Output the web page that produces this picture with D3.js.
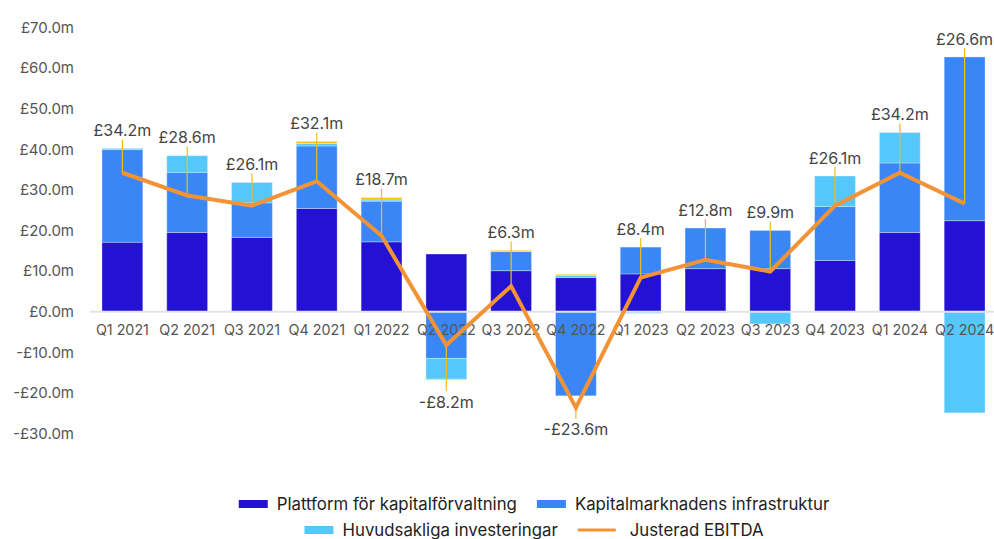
<!DOCTYPE html>
<html>
<head>
<meta charset="utf-8">
<script src="https://cdn.jsdelivr.net/npm/d3@7"></script>
<style>
  body { margin: 0; background: #fff; }
  svg { display: block; font-family: Inter, "Liberation Sans", sans-serif; }
</style>
</head>
<body>
<div id="chart"></div>
<script>
// Quarters on the x axis
const quarters = ["Q1 2021", "Q2 2021", "Q3 2021", "Q4 2021", "Q1 2022", "Q2 2022", "Q3 2022",
                  "Q4 2022", "Q1 2023", "Q2 2023", "Q3 2023", "Q4 2023", "Q1 2024", "Q2 2024"];

// Segment values, £m
const plattform   = [17.1, 19.5, 18.3, 25.4, 17.2, 14.2, 10.1, 8.4, 9.3, 10.6, 10.6, 12.6, 19.5, 22.4];
const kapitalmarknad = [22.8, 14.8, 8.5, 15.4, 10.0, -11.5, 4.7, -20.7, 6.6, 10.0, 9.4, 13.3, 17.1, 40.3];
const investeringar = [0.3, 4.1, 5.0, 0.6, 0.3, -5.1, 0.0, 0.5, -0.4, -0.2, -3.0, 7.5, 7.5, -24.9];
const ovrigt      = [0.0, 0.0, 0.0, 0.5, 0.6, -0.2, 0.3, 0.3, 0.0, 0.0, 0.0, 0.0, 0.0, 0.0];

// Adjusted EBITDA, £m
const ebitda = [34.2, 28.6, 26.1, 32.1, 18.7, -8.2, 6.3, -23.6, 8.4, 12.8, 9.9, 26.1, 34.2, 26.6];

const yTicks = [-30, -20, -10, 0, 10, 20, 30, 40, 50, 60, 70];

const seriesNames = ["Plattform för kapitalförvaltning", "Kapitalmarknadens infrastruktur",
                     "Huvudsakliga investeringar", "Övrigt"];
const lineName = "Justerad EBITDA";

const colors = ["#2312d3", "#3a86f6", "#55c7fb", "#f5c20a"];
const lineColor = "#f39335";
const leaderColor = "#f5bd14";

const W = 994, H = 539;
const svg = d3.select("#chart").append("svg")
    .attr("width", W)
    .attr("height", H);

const x = d3.scaleBand()
    .domain(quarters)
    .range([90, 997])
    .paddingInner(0.37)
    .paddingOuter(0.185);

const y = d3.scaleLinear()
    .domain([-30, 70])
    .range([433.6, 27.3]);

// Build rows for the stack
const rows = quarters.map((q, i) => ({
    q: q,
    s0: plattform[i], s1: kapitalmarknad[i], s2: investeringar[i], s3: ovrigt[i]
}));
const stack = d3.stack()
    .keys(["s0", "s1", "s2", "s3"])
    .offset(d3.stackOffsetDiverging);
const stacked = stack(rows);

// Y axis labels
const yAxis = svg.append("g")
    .attr("transform", "translate(74,0)")
    .call(d3.axisLeft(y).tickValues(yTicks).tickSize(0).tickPadding(0)
        .tickFormat(d => (d < 0 ? "-" : "") + "£" + Math.abs(d).toFixed(1) + "m"));
yAxis.select(".domain").remove();
yAxis.selectAll("text")
    .attr("fill", "#555")
    .style("font-size", "15px")
    .style("font-family", "Inter, 'Liberation Sans', sans-serif");

// Bars
svg.append("g")
    .selectAll("g")
    .data(stacked)
    .join("g")
    .attr("fill", (d, i) => colors[i])
    .selectAll("rect")
    .data(d => d)
    .join("rect")
    .attr("x", d => x(d.data.q))
    .attr("width", x.bandwidth())
    .attr("y", d => y(Math.max(d[0], d[1])))
    .attr("height", d => Math.abs(y(d[0]) - y(d[1])))
    .attr("stroke", "rgba(255,255,255,0.3)")
    .attr("stroke-width", 1);

// Zero line
svg.append("line")
    .attr("x1", x.range()[0])
    .attr("x2", x.range()[1])
    .attr("y1", y(0))
    .attr("y2", y(0))
    .attr("stroke", "#e3e3e3")
    .attr("stroke-width", 2);

// X axis labels
const xAxis = svg.append("g")
    .attr("transform", `translate(0,${y(0)})`)
    .call(d3.axisBottom(x).tickSize(0).tickPadding(13));
xAxis.select(".domain").remove();
xAxis.selectAll("text")
    .attr("fill", "#555")
    .style("font-size", "14.3px")
    .style("font-family", "Inter, 'Liberation Sans', sans-serif");

// EBITDA line
const cx = q => x(q) + x.bandwidth() / 2;
const line = d3.line()
    .x((d, i) => cx(quarters[i]))
    .y(d => y(d));

// Stack extremes per quarter for label placement
const topOf = i => d3.max(stacked, s => Math.max(s[i][0], s[i][1]));
const bottomOf = i => d3.min(stacked, s => Math.min(s[i][0], s[i][1]));

// Leader lines and labels
const labels = svg.append("g");
ebitda.forEach((v, i) => {
    const px = cx(quarters[i]);
    const py = y(v);
    let ly, lineStart;
    if (v >= 0) {
        ly = Math.min(y(topOf(i)), py) - 18;
        lineStart = ly + 9;
    } else {
        ly = Math.max(y(bottomOf(i)), py) + 22;
        lineStart = ly - 11;
    }
    labels.append("line")
        .attr("x1", px).attr("x2", px)
        .attr("y1", lineStart).attr("y2", py)
        .attr("stroke", leaderColor)
        .attr("stroke-width", 1.2);
    labels.append("text")
        .attr("x", px)
        .attr("y", ly)
        .attr("dy", "0.35em")
        .attr("text-anchor", "middle")
        .attr("fill", "#444")
        .style("font-size", "16px")
        .text((v < 0 ? "-" : "") + "£" + Math.abs(v).toFixed(1) + "m");
});

svg.append("path")
    .datum(ebitda)
    .attr("fill", "none")
    .attr("stroke", lineColor)
    .attr("stroke-width", 4)
    .attr("stroke-linejoin", "miter")
    .attr("d", line);

// Legend
const legendRows = [
    [{name: seriesNames[0], color: colors[0], type: "rect"},
     {name: seriesNames[1], color: colors[1], type: "rect"}],
    [{name: seriesNames[2], color: colors[2], type: "rect"},
     {name: lineName, color: lineColor, type: "line"}]
];
const legendY = [504, 530];
const legendCenter = 534;

legendRows.forEach((row, r) => {
    const g = svg.append("g");
    let cur = 0;
    row.forEach((item, k) => {
        const it = g.append("g").attr("transform", `translate(${cur},0)`);
        let textX;
        if (item.type === "rect") {
            it.append("rect")
                .attr("x", 0).attr("y", -4)
                .attr("width", 29).attr("height", 8)
                .attr("fill", item.color);
            textX = 38;
        } else {
            it.append("rect")
                .attr("x", 0).attr("y", -1.5)
                .attr("width", 38).attr("height", 3)
                .attr("fill", item.color);
            textX = 52;
        }
        const t = it.append("text")
            .attr("x", textX)
            .attr("dy", "0.35em")
            .attr("fill", "#222")
            .style("font-size", "16.8px")
            .text(item.name);
        const tw = t.node().getComputedTextLength();
        cur += textX + tw + 20;
    });
    const total = cur - 20;
    g.attr("transform", `translate(${legendCenter - total / 2},${legendY[r]})`);
});
</script>
</body>
</html>
